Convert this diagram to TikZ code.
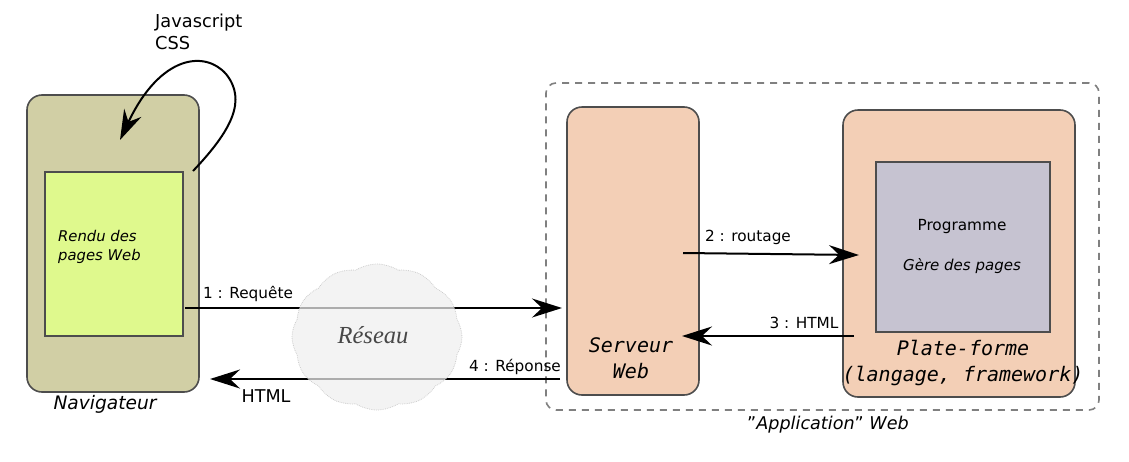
\documentclass[tikz,border=0pt]{standalone}
\usepackage{fontspec}
\setmainfont{DejaVu Sans}
\setmonofont{DejaVu Sans Mono}
\newfontfamily\reseaufont{Liberation Serif}
\usetikzlibrary{arrows.meta,shapes.symbols}
\definecolor{navfill}{RGB}{209,207,165}
\definecolor{rendufill}{RGB}{223,249,141}
\definecolor{peach}{RGB}{243,207,182}
\definecolor{progfill}{RGB}{198,195,209}
\definecolor{bord}{RGB}{77,77,77}
\definecolor{dashgray}{RGB}{128,128,128}
\definecolor{cloudfill}{RGB}{239,239,239}
\definecolor{cloudbord}{RGB}{205,205,205}
\tikzset{
  box/.style={draw=bord, line width=1.6pt, rounded corners=15pt, inner sep=0pt},
  inbox/.style={draw=bord, line width=2pt, inner sep=0pt},
  arr/.style={line width=2pt, -{Stealth[length=30pt,width=19pt,inset=10pt]}},
  lbl/.style={inner sep=0pt, font=\fontsize{15.3}{18}\selectfont},
  big/.style={inner sep=0pt, font=\fontsize{17.6}{22}\selectfont},
  mono/.style={inner sep=0pt, align=center, font=\fontsize{20}{26}\selectfont\ttfamily\itshape},
}
\begin{document}
\begin{tikzpicture}[x=1pt,y=-1pt]
\useasboundingbox (0,0) rectangle (1129,461);
% dashed application box
\node[draw=dashgray, line width=1.6pt, dash pattern=on 7pt off 6pt, rounded corners=10pt,
      minimum width=553pt, minimum height=327pt, inner sep=0pt] (app) at (822.5,246.5) {};
\node[big, font=\fontsize{17.6}{22}\selectfont\itshape] (applbl) at (828,425) {\upshape"\itshape Application\upshape"\itshape{} Web};
% navigator
\node[box, fill=navfill, minimum width=172pt, minimum height=297pt] (nav) at (113,243.5) {};
\node[inbox, fill=rendufill, minimum width=138pt, minimum height=164pt] (rendu) at (114,254) {};
\node[lbl, anchor=north west, align=left, font=\fontsize{14.8}{19}\selectfont\itshape] (rendutxt) at (58,230) {Rendu des\\pages Web};
\node[inner sep=0pt, font=\fontsize{18.6}{22}\selectfont\itshape] (navlbl) at (105,404) {Navigateur};
\node[inner sep=0pt, anchor=north west, align=left, font=\fontsize{17.8}{22}\selectfont] (js) at (155,14) {Javascript\\CSS};
% serveur
\node[box, fill=peach, minimum width=132pt, minimum height=288pt] (serveur) at (633,251) {};
\node[mono] (servtxt) at (631,358) {Serveur\\Web};
% plate-forme
\node[box, fill=peach, minimum width=232pt, minimum height=287pt] (plate) at (959,253.5) {};
\node[inbox, fill=progfill, minimum width=174pt, minimum height=170pt] (prog) at (963,247) {};
\node[lbl] (progtxt) at (962,227) {Programme};
\node[lbl, font=\fontsize{15}{18}\selectfont\itshape] (geretxt) at (962,266) {Gère des pages};
\node[mono] (platetxt) at (963,363) {Plate-forme\\(langage, framework)};
% connector coordinates
\coordinate (a1s) at (185,308);
\coordinate (a1e) at (562,308);
\coordinate (a4s) at (560,379);
\coordinate (a4e) at (210,379);
\coordinate (a2s) at (683,253);
\coordinate (a2e) at (859,255);
\coordinate (a3s) at (854,336);
\coordinate (a3e) at (682,336);
\coordinate (cs) at (193,171);
\coordinate (ce) at (120,140);
% arrows
\draw[arr] (a1s) -- (a1e);
\draw[arr] (a4s) -- (a4e);
\draw[arr] (a2s) -- (a2e);
\draw[arr] (a3s) -- (a3e);
\draw[arr] (cs) .. controls (232,130) and (247,100) .. (226,74) .. controls (205,50) and (160,55) .. (ce);
% labels
\node[lbl] (l1) at (248,294) {1 : Requête};
\node[lbl] (l4) at (515,367) {4 : Réponse};
\node[big] (lhtml) at (266,396) {HTML};
\node[lbl] (l2) at (748,237) {2 : routage};
\node[lbl] (l3) at (804,323) {3 : HTML};
% cloud
\node[cloud, cloud puffs=12, cloud puff arc=65, aspect=1.15, draw=cloudbord, densely dotted, line width=0.8pt,
      fill=cloudfill, fill opacity=0.72, text opacity=1, minimum width=170pt, minimum height=146pt, inner sep=0pt]
      (reseau) at (377,337) {};
\node[inner sep=0pt, text=black!72, font=\fontsize{24.5}{28}\selectfont\reseaufont\itshape] (reseautxt) at (373,335) {Réseau};
\end{tikzpicture}
\end{document}
